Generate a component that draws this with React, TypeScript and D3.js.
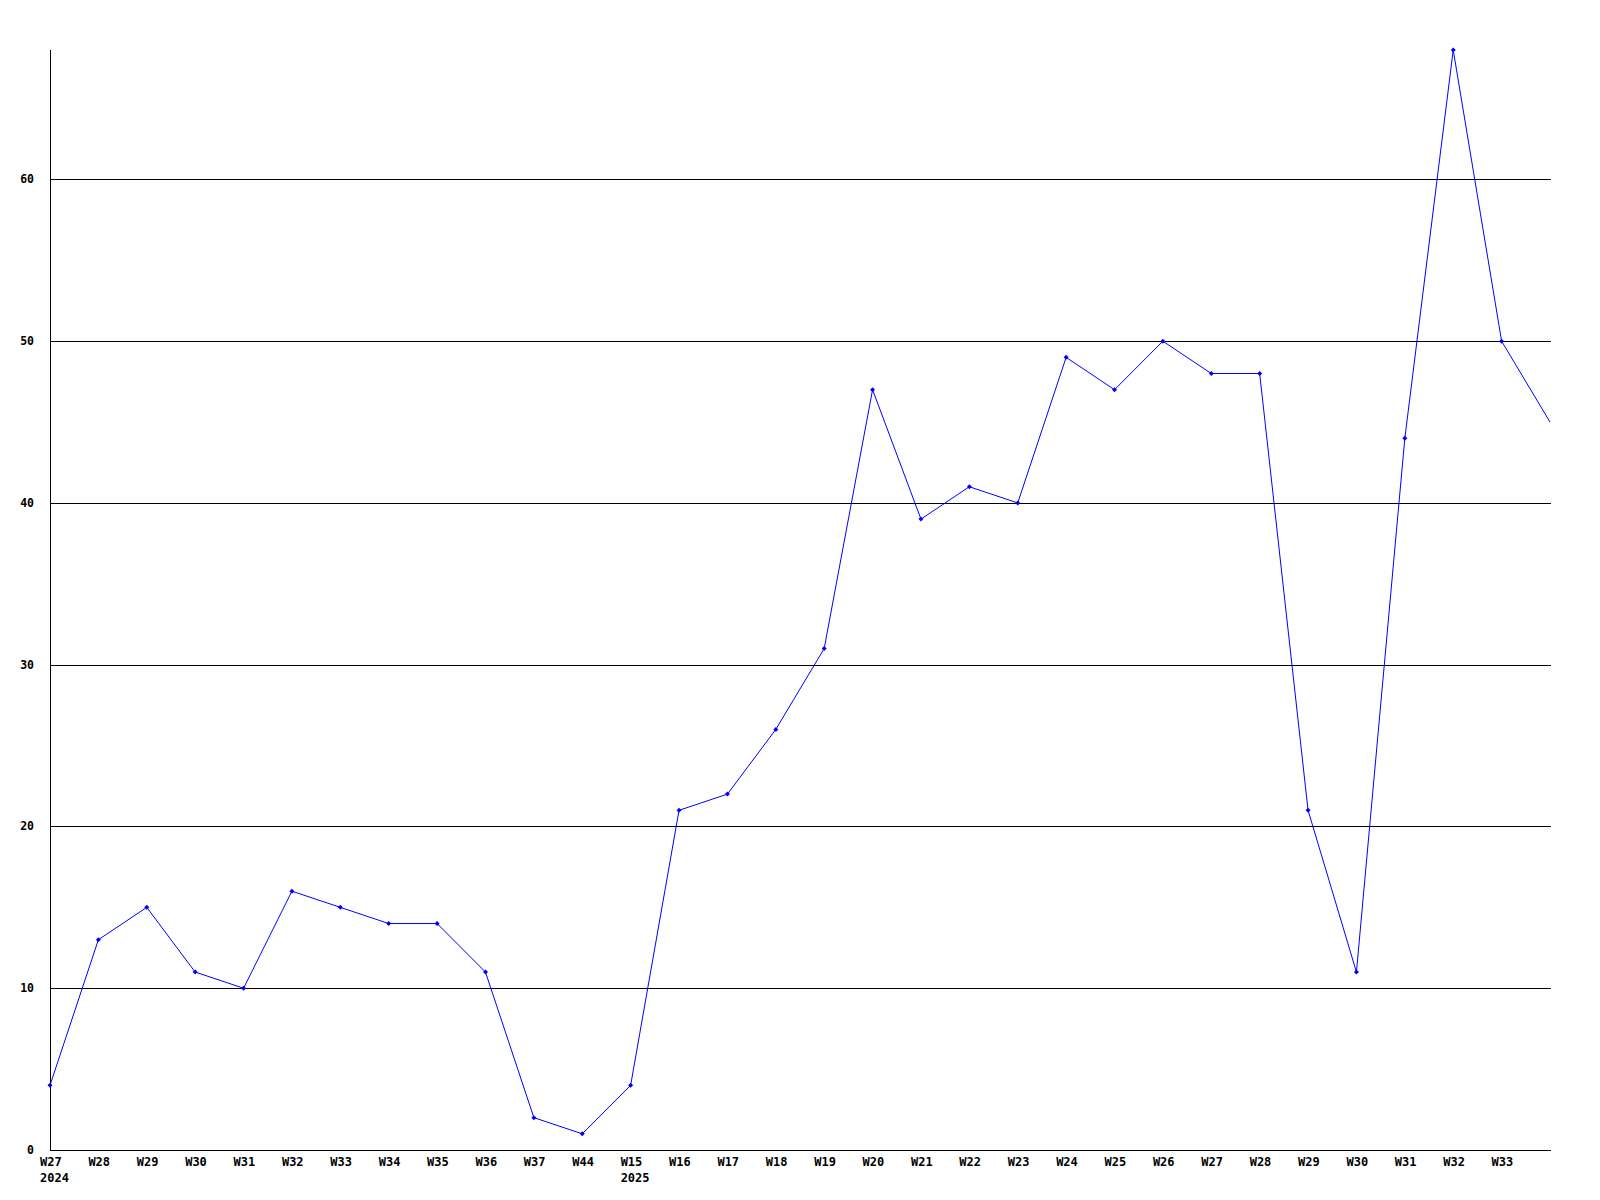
import React from "react";
import * as d3 from "d3";

const weekLabels = [
  "W27", "W28", "W29", "W30", "W31", "W32", "W33", "W34", "W35", "W36", "W37", "W44",
  "W15", "W16", "W17", "W18", "W19", "W20", "W21", "W22", "W23", "W24", "W25", "W26",
  "W27", "W28", "W29", "W30", "W31", "W32", "W33", "W34",
];
const yearLabels = [
  "2024", "", "", "", "", "", "", "", "", "", "", "",
  "2025", "", "", "", "", "", "", "", "", "", "", "",
  "", "", "", "", "", "", "", "",
];
const values = [
  4, 13, 15, 11, 10, 16, 15, 14, 14, 11, 2, 1,
  4, 21, 22, 26, 31, 47, 39, 41, 40, 49, 47, 50,
  48, 48, 21, 11, 44, 68, 50, 45,
];
const yTicks = [0, 10, 20, 30, 40, 50, 60];

const W = 1600;
const H = 1200;
const left = 50;
const right = 1551;
const top = 50;
const bottom = 1150;

export default function App() {
  const idx = weekLabels.map((_, i) => i);
  const x = d3.scaleLinear().domain([0, 31]).range([left, 1550]);
  const y = d3.scaleLinear().domain([0, 68]).range([bottom, top]);
  const line = d3
    .line<number>()
    .x((_, i) => x(i))
    .y((d) => y(d));
  const font = "'DejaVu Sans Mono', 'Liberation Mono', monospace";
  const crisp = (v: number) => Math.round(v) + 0.5;

  return (
    <svg
      width={W}
      height={H}
      style={{ position: "absolute", left: 0, top: 0, background: "#fff" }}
    >
      <defs>
        <clipPath id="plotclip">
          <rect x={left - 4} y={0} width={right - left + 4} height={bottom + 4} />
        </clipPath>
      </defs>
      {yTicks
        .filter((t) => t > 0)
        .map((t) => (
          <line
            key={t}
            x1={left}
            x2={right}
            y1={crisp(y(t))}
            y2={crisp(y(t))}
            stroke="#000"
            strokeWidth={1}
            shapeRendering="crispEdges"
          />
        ))}
      <line x1={crisp(left)} x2={crisp(left)} y1={top} y2={bottom + 1} stroke="#000" shapeRendering="crispEdges" />
      <line x1={left} x2={right} y1={crisp(bottom)} y2={crisp(bottom)} stroke="#000" shapeRendering="crispEdges" />
      {yTicks.map((t) => (
        <text
          key={t}
          x={34}
          y={y(t) + 4}
          textAnchor="end"
          fontFamily={font}
          fontWeight="bold"
          fontSize={11.5}
          fill="#000"
        >
          {t}
        </text>
      ))}
      {idx
        .filter((i) => x(i) < right - 5)
        .map((i) => (
          <g key={i}>
            <text
              x={x(i) - 10}
              y={1166}
              textAnchor="start"
              fontFamily={font}
              fontWeight="bold"
              fontSize={12}
              fill="#000"
            >
              {weekLabels[i]}
            </text>
            {yearLabels[i] && (
              <text
                x={x(i) - 10}
                y={1181.5}
                textAnchor="start"
                fontFamily={font}
                fontWeight="bold"
                fontSize={12}
                fill="#000"
              >
                {yearLabels[i]}
              </text>
            )}
          </g>
        ))}
      <g clipPath="url(#plotclip)">
        <path d={line(values) || ""} fill="none" stroke="#0000ff" strokeWidth={1} />
        {values.map((v, i) =>
          x(i) < right - 3 ? (
            <path
              key={i}
              d={`M${x(i)},${y(v) - 2.5}L${x(i) + 2.5},${y(v)}L${x(i)},${y(v) + 2.5}L${x(i) - 2.5},${y(v)}Z`}
              fill="#0000ff"
            />
          ) : null
        )}
      </g>
    </svg>
  );
}
